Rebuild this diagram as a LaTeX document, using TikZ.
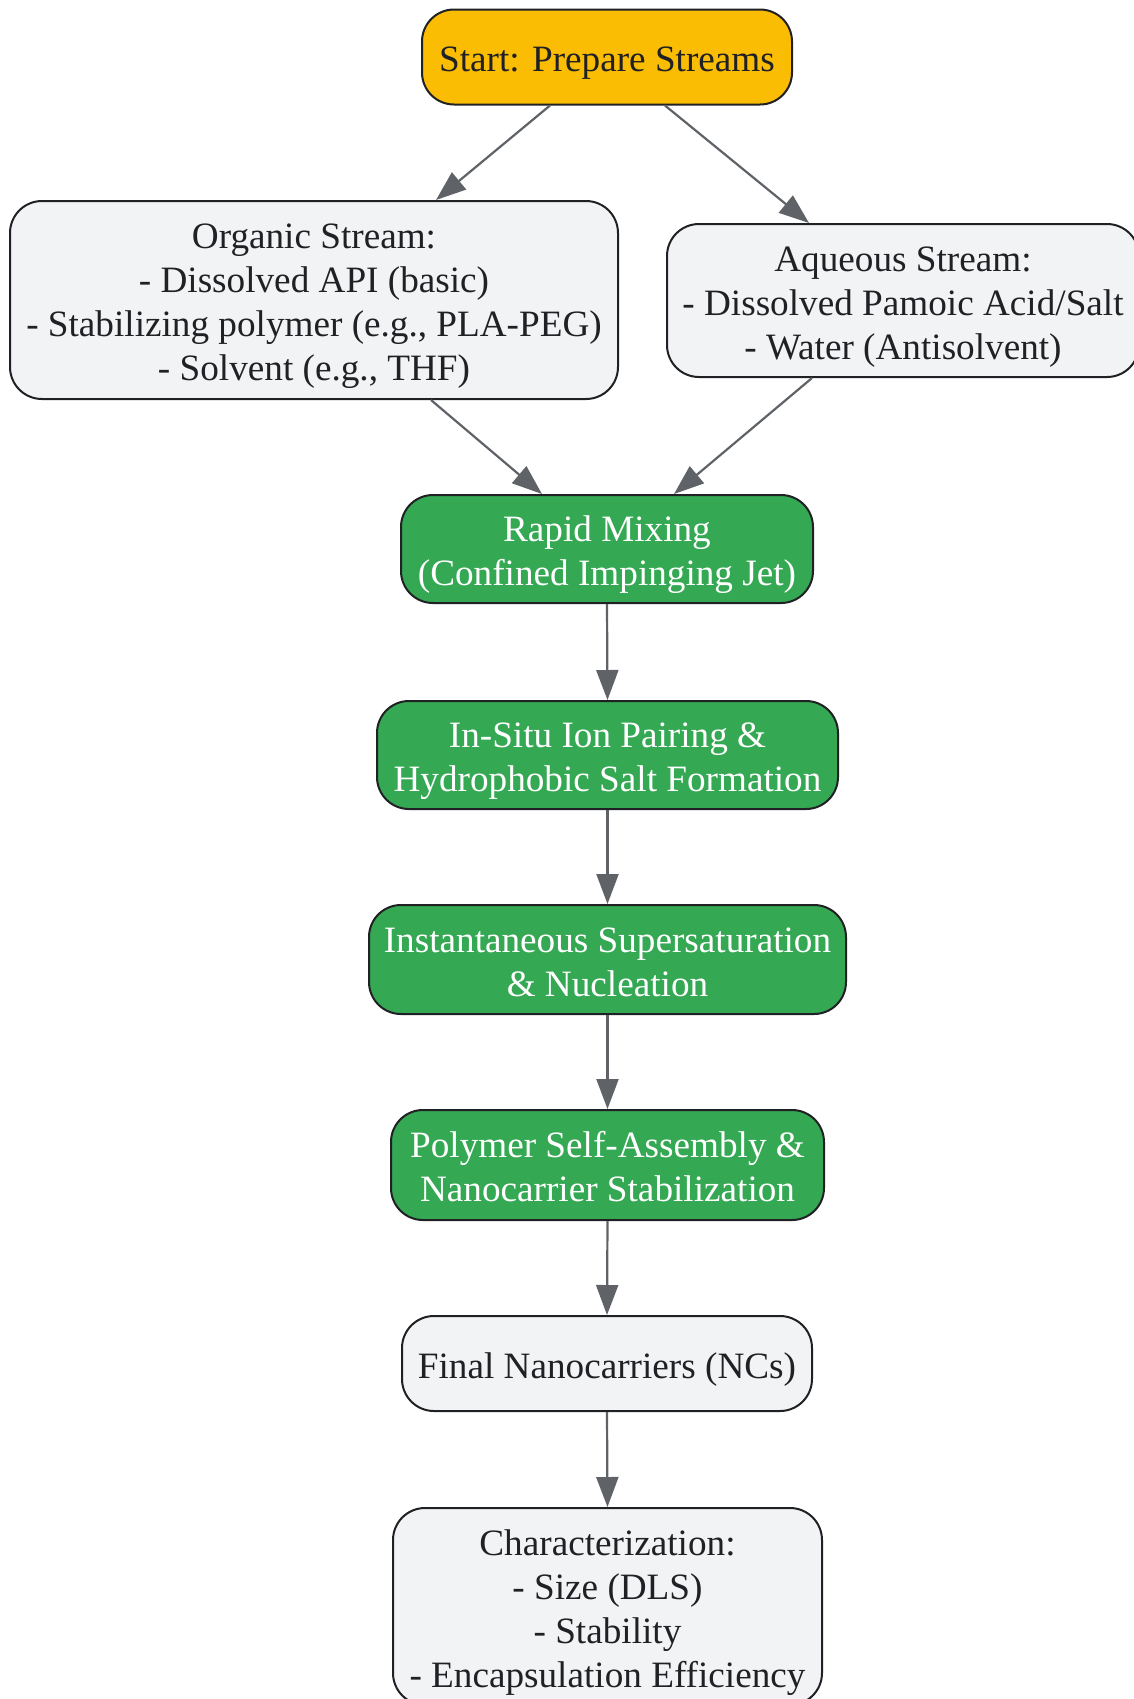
\documentclass[tikz,border=0pt]{standalone}
\usepackage{fontspec}
\setmainfont{Liberation Serif}
\usetikzlibrary{arrows.meta,calc}

\definecolor{startyellow}{HTML}{FBBC04}
\definecolor{stepgreen}{HTML}{34A853}
\definecolor{boxgrey}{HTML}{F1F3F4}
\definecolor{edgegrey}{HTML}{5F6368}
\definecolor{inkdark}{HTML}{202124}

\tikzset{
  flowbox/.style={draw=inkdark, line width=1pt, rounded corners=16pt, align=flush center,
    inner sep=0pt, text=inkdark, font=\fontsize{18.6}{22}\selectfont,
    execute at begin node={\rule{0pt}{19pt}},
    execute at end node={\rule[-4.5pt]{0pt}{4.5pt}}},
  startbox/.style={flowbox, fill=startyellow},
  greenbox/.style={flowbox, fill=stepgreen, text=white},
  greybox/.style={flowbox, fill=boxgrey},
  flowarrow/.style={draw=edgegrey, line width=1.1pt, -{Triangle[length=15pt,width=11pt]}},
}

\begin{document}
\begin{tikzpicture}[x=0.5pt,y=-0.5pt]
    \useasboundingbox (0,0) rectangle (1134,1699);

    % top and the two input streams
    \node[startbox, text width=185pt, minimum height=47.5pt] (start) at (607,57) {Start: Prepare Streams};
    \node[greybox, text width=304pt, minimum height=99pt] (organic) at (314,300)
        {Organic Stream:\\- Dissolved API (basic)\\- Stabilizing polymer (e.g., PLA-PEG)\\- Solvent (e.g., THF)};
    \node[greybox, text width=236pt, minimum height=76.5pt] (aqueous) at (903,300.5)
        {Aqueous Stream:\\- Dissolved Pamoic Acid/Salt\\- Water (Antisolvent)};

    % process steps
    \node[greenbox, text width=206pt, minimum height=54pt] (mixing) at (607,549)
        {Rapid Mixing\\(Confined Impinging Jet)};
    \node[greenbox, text width=230.5pt, minimum height=54pt] (pairing) at (607.5,755)
        {In-Situ Ion Pairing \&\\Hydrophobic Salt Formation};
    \node[greenbox, text width=238.5pt, minimum height=54.5pt] (nucleation) at (607.5,959.5)
        {Instantaneous Supersaturation\\\& Nucleation};
    \node[greenbox, text width=216.5pt, minimum height=55pt] (assembly) at (607.5,1165)
        {Polymer Self-Assembly \&\\Nanocarrier Stabilization};

    % result
    \node[greybox, text width=205pt, minimum height=47.5pt] (final) at (607,1363.5)
        {Final Nanocarriers (NCs)};
    \node[greybox, text width=214.5pt, minimum height=98.5pt] (charact) at (607.5,1606.5)
        {Characterization:\\- Size (DLS)\\- Stability\\- Encapsulation Efficiency};

    \draw[flowarrow] ($(start.south)+(-57,0)$) -- ($(organic.north)+(122,0)$);
    \draw[flowarrow] ($(start.south)+(58,0)$) -- ($(aqueous.north)+(-94,0)$);
    \draw[flowarrow] ($(organic.south)+(117,0)$) -- ($(mixing.north)+(-65,0)$);
    \draw[flowarrow] ($(aqueous.south)+(-91,0)$) -- ($(mixing.north)+(67,0)$);
    \draw[flowarrow] (mixing.south) -- (pairing.north);
    \draw[flowarrow] (pairing.south) -- (nucleation.north);
    \draw[flowarrow] (nucleation.south) -- (assembly.north);
    \draw[flowarrow] (assembly.south) -- (final.north);
    \draw[flowarrow] (final.south) -- (charact.north);
\end{tikzpicture}
\end{document}
